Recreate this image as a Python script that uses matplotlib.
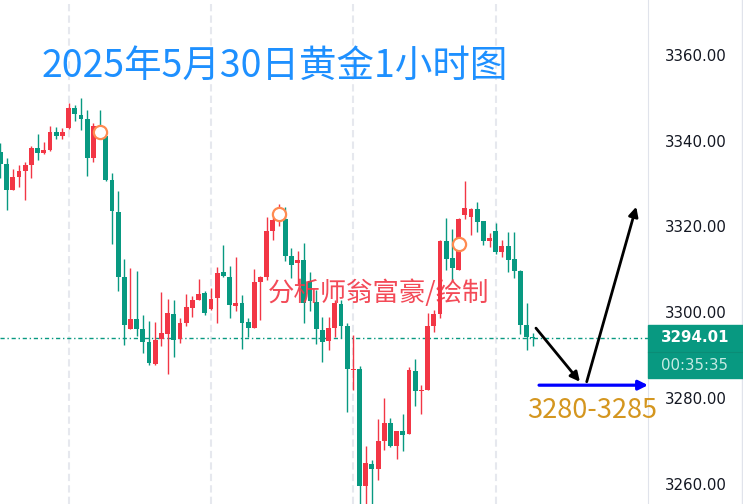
import matplotlib.pyplot as plt
from matplotlib.patches import Rectangle
from matplotlib.lines import Line2D

W, H = 743, 504
plot_w = 648

# hourly candles (red = up, green = down)
opens = [3337.4, 3334.6, 3328.5, 3331.5, 3332.9, 3334.3, 3338.3, 3337.1, 3337.8, 3342.0,
         3341.2, 3343.0, 3347.6, 3346.0, 3345.1, 3335.9, 3343.4, 3341.0, 3330.8, 3323.4,
         3308.2, 3296.2, 3298.4, 3296.1, 3293.1, 3287.9, 3293.7, 3295.0, 3299.6, 3293.7,
         3297.6, 3301.0, 3302.9, 3304.6, 3300.7, 3303.4, 3309.5, 3308.2, 3301.5, 3302.2,
         3297.7, 3296.4, 3307.1, 3308.3, 3319.0, 3321.5, 3321.7, 3313.2, 3311.6, 3312.2,
         3307.4, 3302.5, 3295.9, 3293.4, 3296.4, 3301.9, 3296.8, 3286.5, 3286.7, 3259.5,
         3264.6, 3263.4, 3270.0, 3274.3, 3268.9, 3272.4, 3271.6, 3286.4, 3281.6, 3281.9,
         3296.8, 3299.6, 3316.6, 3312.6, 3309.9, 3322.7, 3322.3, 3324.1, 3321.3, 3316.5,
         3318.9, 3314.1, 3315.4, 3312.4, 3309.7, 3297.0, 3294.3]
highs = [3339.5, 3336.0, 3333.4, 3334.3, 3335.1, 3338.8, 3341.6, 3339.7, 3343.4, 3343.2,
         3342.9, 3348.7, 3348.3, 3350.0, 3347.2, 3344.1, 3347.2, 3341.2, 3332.4, 3328.3,
         3312.4, 3310.3, 3309.6, 3299.4, 3298.0, 3297.8, 3304.8, 3303.2, 3302.9, 3298.7,
         3304.3, 3303.8, 3307.7, 3305.0, 3305.7, 3310.6, 3315.7, 3310.8, 3312.9, 3304.0,
         3298.7, 3310.1, 3308.5, 3322.3, 3322.2, 3325.2, 3324.5, 3315.0, 3314.3, 3316.2,
         3309.5, 3305.2, 3299.0, 3298.8, 3302.9, 3302.9, 3297.4, 3294.7, 3287.5, 3268.8,
         3265.5, 3275.0, 3279.9, 3275.4, 3272.4, 3276.3, 3287.2, 3289.1, 3283.0, 3299.8,
         3300.5, 3316.9, 3321.9, 3319.3, 3322.0, 3330.6, 3324.2, 3325.8, 3321.3, 3318.4,
         3320.7, 3316.9, 3318.8, 3318.8, 3309.8, 3302.1, 3295.2]
lows = [3331.2, 3323.8, 3328.5, 3329.3, 3326.2, 3331.3, 3335.5, 3336.8, 3337.7, 3340.5,
        3340.4, 3342.7, 3344.6, 3342.5, 3331.8, 3335.1, 3340.5, 3330.5, 3315.9, 3305.0,
        3292.4, 3296.2, 3294.5, 3290.6, 3287.6, 3287.7, 3292.1, 3285.6, 3289.6, 3292.9,
        3296.8, 3299.0, 3302.9, 3299.4, 3300.5, 3297.4, 3308.2, 3298.6, 3300.4, 3291.5,
        3294.3, 3296.4, 3298.3, 3307.5, 3316.9, 3320.1, 3312.0, 3307.9, 3306.5, 3297.6,
        3300.4, 3292.5, 3288.5, 3291.2, 3294.3, 3293.9, 3276.8, 3281.9, 3254.0, 3254.5,
        3254.5, 3260.9, 3267.9, 3268.5, 3265.8, 3267.7, 3271.6, 3278.2, 3276.3, 3281.9,
        3295.5, 3298.6, 3309.9, 3307.5, 3309.9, 3321.7, 3318.0, 3318.6, 3315.7, 3315.3,
        3313.6, 3312.8, 3309.5, 3308.1, 3294.9, 3291.2, 3292.1]
closes = [3334.6, 3328.5, 3331.5, 3332.9, 3334.3, 3338.3, 3337.1, 3337.8, 3342.0, 3341.2,
          3342.0, 3347.6, 3346.2, 3345.1, 3336.0, 3343.4, 3341.0, 3330.8, 3323.5, 3308.3,
          3297.1, 3298.4, 3296.2, 3293.1, 3288.2, 3293.5, 3295.2, 3299.8, 3293.5, 3297.5,
          3301.2, 3302.9, 3304.3, 3299.8, 3303.1, 3309.1, 3308.5, 3301.7, 3302.2, 3297.6,
          3296.4, 3307.1, 3308.3, 3319.0, 3321.5, 3322.5, 3313.2, 3311.0, 3312.2, 3302.2,
          3302.6, 3296.0, 3293.1, 3296.3, 3302.1, 3296.9, 3286.7, 3286.8, 3259.6, 3264.9,
          3263.5, 3270.0, 3274.3, 3268.9, 3272.4, 3271.4, 3286.5, 3281.7, 3281.9, 3296.8,
          3299.6, 3316.5, 3312.4, 3310.4, 3321.7, 3324.2, 3324.1, 3321.1, 3316.6, 3317.4,
          3314.1, 3315.4, 3312.3, 3309.7, 3297.0, 3294.3, 3294.0]

day_starts = [11, 34, 57, 80]
marks = [16, 45, 74]
mark_prices = [3342.0, 3322.8, 3315.8]
price_ticks = [3260, 3280, 3300, 3320, 3340, 3360]
last_price = 3294.01
countdown = "00:35:35"
title = "2025年5月30日黄金1小时图"
author = "分析师翁富豪/绘制"
zone = "3280-3285"

# hand drawn forecast (candle index, price)
path_down = [(86.5, 3296.3), (93.6, 3283.8)]
path_up = [(94.7, 3283.8), (102.7, 3324.6)]
support = [(87.0, 3283.0), (104.6, 3283.0)]

up_col = "#F23645"
down_col = "#089981"
cjk = ["Noto Sans CJK SC", "DejaVu Sans"]

fig = plt.figure(figsize=(W / 100, H / 100), dpi=100)
ax = fig.add_axes([0, 0, plot_w / W, 1])
ax.set_xlim(-0.08, 104.6)
ax.set_ylim(3255.3, 3372.8)

for d in day_starts:
    ax.axvline(d, color="#E6E8EE", lw=1.5, ls=(0, (3.5, 2)), zorder=0)

x = list(range(len(opens)))
cols = [up_col if c >= o else down_col for o, c in zip(opens, closes)]
bottoms = [min(o, c) for o, c in zip(opens, closes)]
heights = [max(abs(c - o), 0.35) for o, c in zip(opens, closes)]
ax.vlines(x, lows, highs, colors=cols, lw=1, zorder=2)
ax.bar(x, heights, bottom=bottoms, width=0.78, color=cols, zorder=3)

ax.axhline(last_price, color=down_col, lw=1, ls=(0, (3, 2, 1, 2)), zorder=1)

ax.plot(marks, mark_prices, "o", ls="none", ms=9.5, mfc="white",
        mec="#FF8A50", mew=1.6, zorder=5)

for a, b in [path_down, path_up]:
    ax.annotate("", xy=b, xytext=a,
                arrowprops=dict(arrowstyle="-|>", color="black", lw=2,
                                mutation_scale=14, shrinkA=0, shrinkB=0), zorder=6)
ax.annotate("", xy=support[1], xytext=support[0],
            arrowprops=dict(arrowstyle="-|>", color="#0000FF", lw=2.3,
                            mutation_scale=14, shrinkA=0, shrinkB=0), zorder=6)

for s in ["left", "top", "bottom"]:
    ax.spines[s].set_visible(False)
ax.spines["right"].set_color("#E0E3EB")
ax.yaxis.tick_right()
ax.set_yticks(price_ticks)
ax.set_yticklabels([f"{p:.2f}" for p in price_ticks])
ax.tick_params(axis="y", length=0, pad=12, labelsize=10.8, labelcolor="#131722")
ax.set_xticks([])

fig.add_artist(Line2D([742 / W, 742 / W], [0, 1], color="#E0E3EB", lw=1))

# last price tag on the scale
fig.add_artist(Rectangle((plot_w / W, 1 - 378 / H), 95 / W, 53 / H,
                         transform=fig.transFigure, color=down_col, zorder=10))
fig.add_artist(Line2D([plot_w / W, 1], [1 - 352 / H, 1 - 352 / H],
                      color="#0B8C76", lw=0.8, zorder=11))
fig.text(695 / W, 1 - 338 / H, f"{last_price:.2f}", color="white", fontsize=10.8,
         fontweight="bold", ha="center", va="center", zorder=12)
fig.text(695 / W, 1 - 365 / H, countdown, color="#C6EAE3", fontsize=10.8,
         ha="center", va="center", zorder=12)

fig.text(42 / W, 1 - 66 / H, title, color="#1E90FF", fontsize=27,
         family=cjk, ha="left", va="center")
fig.text(268 / W, 1 - 293 / H, author, color=up_col, fontsize=19,
         family=cjk, alpha=0.9, ha="left", va="center")
fig.text(592 / W, 1 - 411 / H, zone, color="#D4961F", fontsize=19.5,
         family=cjk, ha="center", va="center")

fig.savefig("out.png", dpi=100)
